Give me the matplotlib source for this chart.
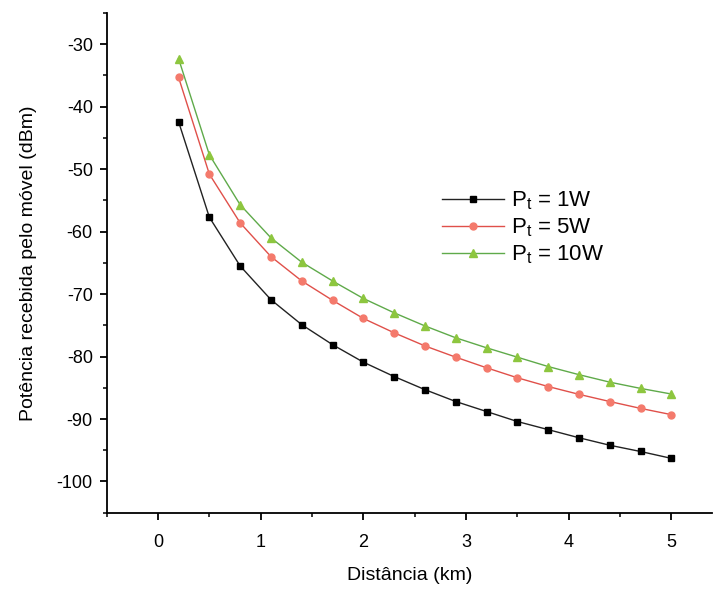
import matplotlib
matplotlib.use('Agg')
import matplotlib.pyplot as plt
from matplotlib.ticker import MultipleLocator

# Data
distancia = [0.2, 0.5, 0.8, 1.1, 1.4, 1.7, 2.0, 2.3, 2.6, 2.9, 3.2, 3.5, 3.8, 4.1, 4.4, 4.7, 5.0]
pr_1w = [-42.4, -57.7, -65.5, -70.9, -74.9, -78.1, -80.9, -83.2, -85.3, -87.2,
         -88.8, -90.4, -91.7, -93.0, -94.2, -95.2, -96.3]
pr_5w = [-35.3, -50.8, -58.6, -64.0, -67.9, -71.0, -73.9, -76.2, -78.3, -80.1,
         -81.8, -83.4, -84.8, -86.05, -87.2, -88.3, -89.3]
pr_10w = [-32.3, -47.7, -55.7, -61.0, -64.9, -67.9, -70.7, -73.0, -75.1, -77.0,
          -78.6, -80.1, -81.6, -82.9, -84.1, -85.1, -86.0]
labels = [r'P$_\mathregular{t}$ = 1W', r'P$_\mathregular{t}$ = 5W', r'P$_\mathregular{t}$ = 10W']

plt.rcParams['font.family'] = ['Liberation Sans', 'DejaVu Sans']
plt.rcParams['axes.unicode_minus'] = False

fig = plt.figure(figsize=(7.16, 5.90), dpi=100)
ax = fig.add_axes([0.149, 0.131, 0.846, 0.847])

ax.plot(distancia, pr_1w, color='#222222', lw=1.0, marker='s', ms=4.5,
        mfc='black', mec='black', label=labels[0])
ax.plot(distancia, pr_5w, color='#e0504a', lw=1.0, marker='o', ms=5,
        mfc='#f47a6c', mec='#f47a6c', label=labels[1])
ax.plot(distancia, pr_10w, color='#5faa4a', lw=1.0, marker='^', ms=5.5,
        mfc='#8dc63f', mec='#8dc63f', label=labels[2])

ax.set_xlim(-0.5, 5.4)
ax.set_ylim(-105, -25)
ax.xaxis.set_major_locator(MultipleLocator(1))
ax.xaxis.set_minor_locator(MultipleLocator(0.5))
ax.yaxis.set_major_locator(MultipleLocator(10))
ax.yaxis.set_minor_locator(MultipleLocator(5))

ax.spines['top'].set_visible(False)
ax.spines['right'].set_visible(False)
ax.spines['left'].set_linewidth(1.3)
ax.spines['bottom'].set_linewidth(1.3)
ax.tick_params(which='major', direction='out', length=5, width=1.3, labelsize=13)
ax.tick_params(axis='x', which='major', pad=10)
ax.tick_params(axis='y', which='major', pad=5)
ax.tick_params(which='minor', direction='out', length=3, width=1.1)

ax.set_xlabel('Distância (km)', fontsize=14, labelpad=12)
ax.set_ylabel('Potência recebida pelo móvel (dBm)', fontsize=14, labelpad=14)

ax.legend(loc='center left', bbox_to_anchor=(0.52, 0.57), frameon=False,
          fontsize=16, handlelength=2.8, handletextpad=0.3, labelspacing=0.2)

fig.savefig('out.png', dpi=100)
